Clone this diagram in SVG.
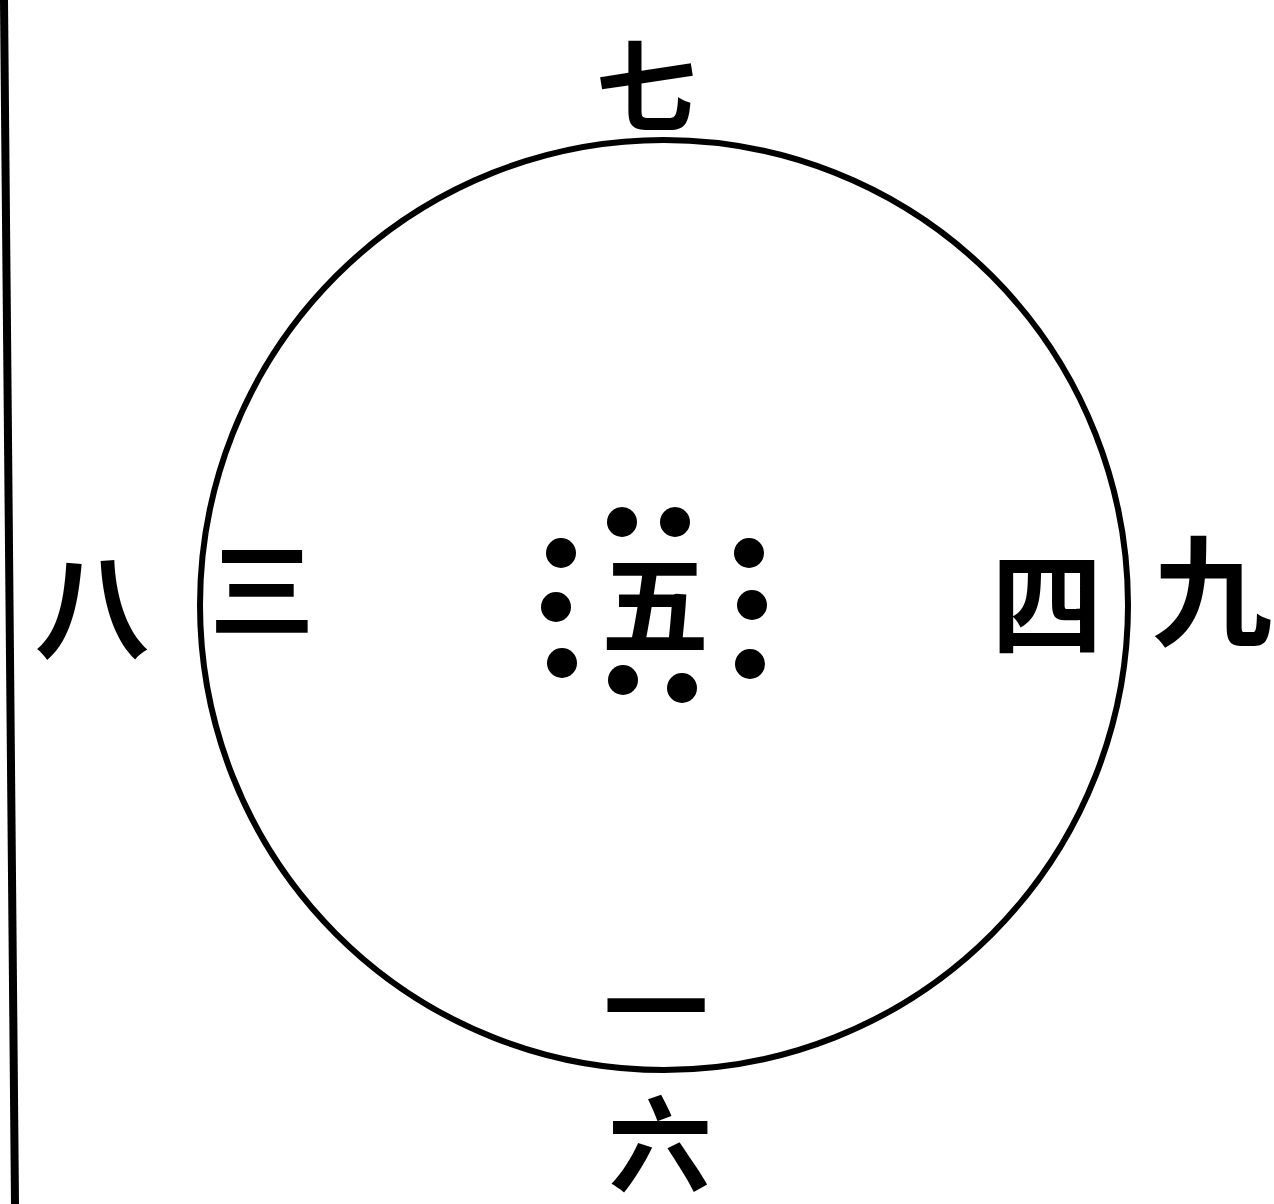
<svg xmlns="http://www.w3.org/2000/svg" width="1274" height="1204" viewBox="0 0 1274 1204">
<style>
.t{font-family:"Noto Sans CJK SC","Noto Sans CJK TC",sans-serif;font-weight:bold;fill:#000;text-anchor:middle;dominant-baseline:central}
.d{fill:#000}
</style>
<rect width="1274" height="1204" fill="#fff"/>
<g id="border"><line x1="4" y1="0" x2="15" y2="1204" stroke="#000" stroke-width="8"/></g>
<g id="connectors"><ellipse cx="664" cy="605" rx="464" ry="465" fill="none" stroke="#000" stroke-width="6"/></g>
<g id="n7"><text class="t" x="646" y="80" font-size="100">七</text></g>
<g id="n8"><text class="t" x="92" y="600" font-size="115">八</text></g>
<g id="n3"><text class="t" x="262" y="583" font-size="105">三</text></g>
<g id="n4"><text class="t" x="1047" y="598" font-size="112">四</text></g>
<g id="n9"><text class="t" x="1212" y="585" font-size="120">九</text></g>
<g id="n1"><text class="t" x="656" y="1000" font-size="105">一</text></g>
<g id="n6"><text class="t" x="660" y="1138" font-size="104">六</text></g>
<g id="n5">
<text class="t" x="655" y="598" font-size="108">五</text>
<circle class="d" cx="622" cy="522" r="15"/>
<circle class="d" cx="675" cy="522" r="15"/>
<circle class="d" cx="561" cy="553" r="15"/>
<circle class="d" cx="556" cy="607" r="15"/>
<circle class="d" cx="562" cy="663" r="15"/>
<circle class="d" cx="749" cy="553" r="15"/>
<circle class="d" cx="752" cy="605" r="15"/>
<circle class="d" cx="750" cy="664" r="15"/>
<circle class="d" cx="623" cy="680" r="15"/>
<circle class="d" cx="682" cy="688" r="15"/>
</g>
</svg>
